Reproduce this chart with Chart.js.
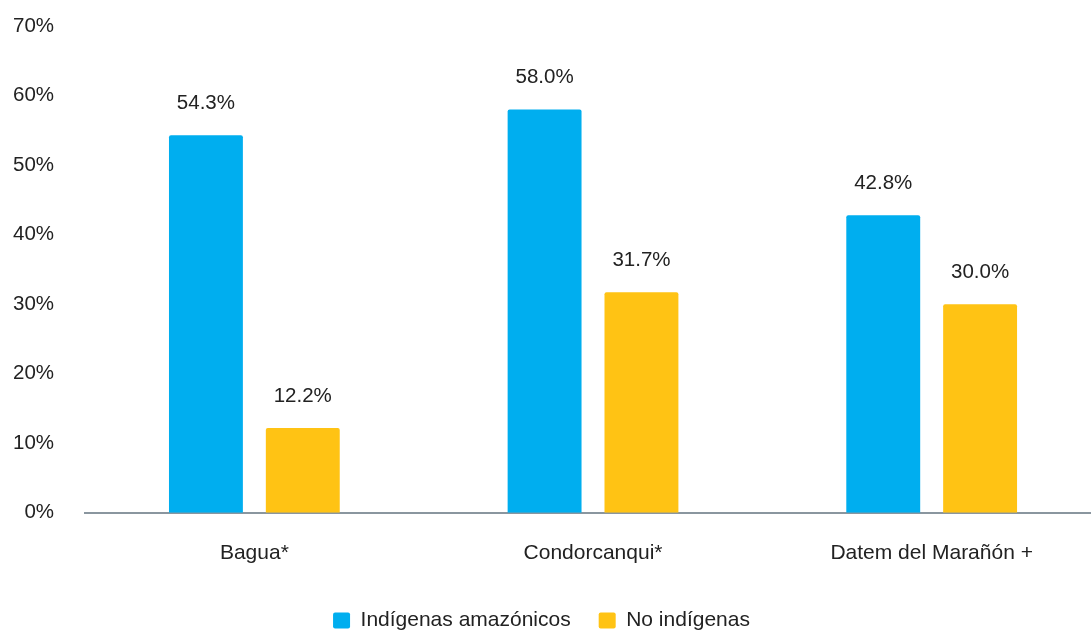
<!DOCTYPE html>
<html>
<head>
<meta charset="utf-8">
<script src="https://cdn.jsdelivr.net/npm/chart.js@4/dist/chart.umd.min.js"></script>
<style>
  html, body { margin: 0; padding: 0; background: #fff; overflow: hidden; }
  #wrap { width: 1101px; height: 630px; }
</style>
</head>
<body>
<div id="wrap"><canvas id="grafico"></canvas></div>
<script>
// provincias y porcentajes
const provincias = ['Bagua*', 'Condorcanqui*', 'Datem del Marañón +'];
const indigenas = [54.3, 58.0, 42.8];
const noIndigenas = [12.2, 31.7, 30.0];
const series = ['Indígenas amazónicos', 'No indígenas'];

const fuente = "'Liberation Sans', Arial, sans-serif";

// etiquetas de valor encima de cada barra
const etiquetas = {
  id: 'etiquetas',
  afterDatasetsDraw(chart) {
    const c = chart.ctx;
    c.save();
    c.font = '20.5px ' + fuente;
    c.fillStyle = '#222';
    c.textAlign = 'center';
    c.textBaseline = 'middle';
    chart.data.datasets.forEach((ds, i) => {
      chart.getDatasetMeta(i).data.forEach((bar, j) => {
        c.fillText(ds.data[j].toFixed(1) + '%', bar.x, bar.y - 32);
      });
    });
    c.restore();
  }
};

new Chart(document.getElementById('grafico'), {
  type: 'bar',
  data: {
    labels: provincias,
    datasets: [{
      label: series[0],
      data: indigenas,
      backgroundColor: '#00aeef',
      borderRadius: 2,
      borderSkipped: 'bottom',
      categoryPercentage: 0.572,
      barPercentage: 0.763
    }, {
      label: series[1],
      data: noIndigenas,
      backgroundColor: '#ffc314',
      borderRadius: 2,
      borderSkipped: 'bottom',
      categoryPercentage: 0.572,
      barPercentage: 0.763
    }]
  },
  options: {
    responsive: true,
    maintainAspectRatio: false,
    animation: false,
    layout: { padding: { left: -18, top: 0, right: 0, bottom: -11 } },
    scales: {
      x: {
        grid: { display: false, drawTicks: false },
        border: { color: '#8a969f', width: 2 },
        ticks: { color: '#222', font: { size: 21, family: fuente }, padding: 28 },
        // acercar la leyenda a las etiquetas del eje
        afterFit: s => { s.height -= 12; }
      },
      y: {
        min: 0,
        max: 70,
        grid: { display: false, drawTicks: false },
        border: { display: false },
        ticks: {
          stepSize: 10,
          color: '#222',
          font: { size: 20.5, family: fuente },
          padding: 31,
          callback: v => v + '%'
        },
        // el padding de los ticks no debe empujar el área hacia abajo
        afterFit: s => { s.paddingTop = 26; }
      }
    },
    plugins: {
      legend: {
        position: 'bottom',
        labels: {
          boxWidth: 17,
          boxHeight: 16,
          useBorderRadius: true,
          borderRadius: 2,
          padding: 28,
          color: '#222',
          font: { size: 21, family: fuente }
        }
      },
      tooltip: { enabled: false }
    }
  },
  plugins: [etiquetas]
});
</script>
</body>
</html>
